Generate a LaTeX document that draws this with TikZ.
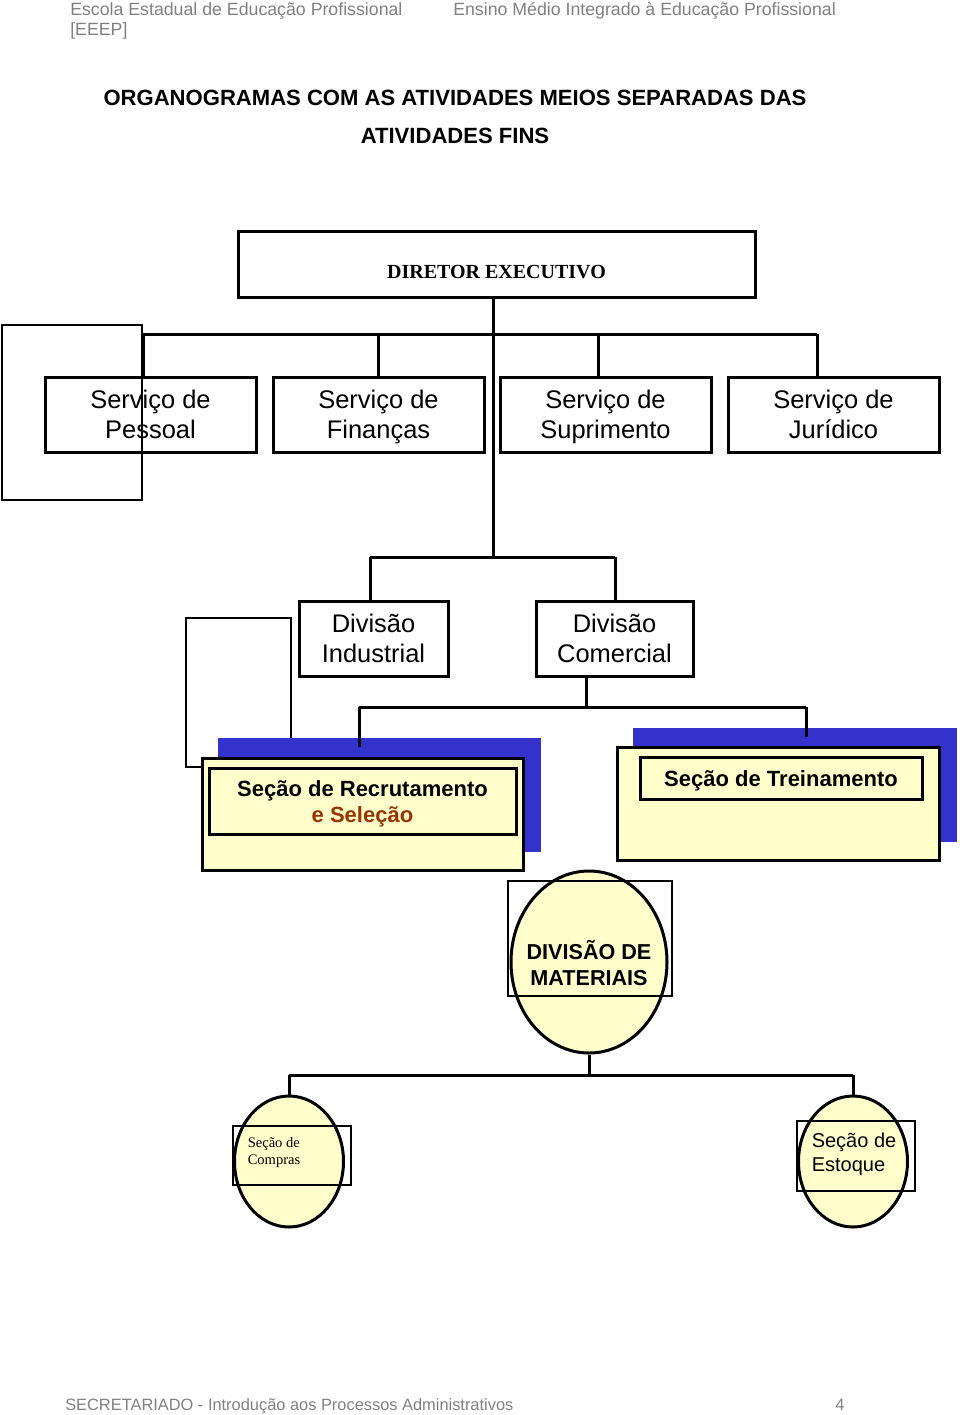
\documentclass[tikz,border=0pt]{standalone}
\usepackage{fontspec}
\setmainfont{Liberation Sans}
\newfontfamily\serifft{Liberation Serif}
\usetikzlibrary{shapes.geometric}
\definecolor{paleyellow}{HTML}{FFFFCC}
\definecolor{shadowblue}{HTML}{3333CC}
\definecolor{brownred}{HTML}{993300}
\definecolor{headgray}{HTML}{808080}
\def\pxu{0.75pt}
\newcommand\sstrut{\rule[-4.25pt]{0pt}{22.5pt}}
\begin{document}
\begin{tikzpicture}[x=0.75pt,y=-0.75pt,
  box/.style={draw, line width=2.25pt, inner sep=0pt, align=center, fill=white,
    font=\fontsize{19.1}{22.5}\selectfont},
  ybox/.style={draw, line width=2.25pt, inner sep=0pt, align=center, fill=paleyellow},
  ylabel/.style={inner sep=0pt, align=center, font=\bfseries\fontsize{16.5}{19.5}\selectfont},
  conn/.style={line width=2.25pt},
  hairbox/.style={line width=1.1pt},
  ell/.style={ellipse, draw, line width=2.25pt, fill=paleyellow, inner sep=0pt},
  hdr/.style={anchor=base west, inner sep=0pt, text=headgray, font=\fontsize{13.3}{16}\selectfont}
]
\useasboundingbox (0,0) rectangle (960,1415);

% header / footer
\node[hdr] (h1) at (70,15) {Escola Estadual de Educação Profissional};
\node[hdr] (h2) at (453,15) {Ensino Médio Integrado à Educação Profissional};
\node[hdr] (h3) at (70,35) {[EEEP]};
\node[hdr, font=\fontsize{12.3}{15}\selectfont] (f1) at (65,1410) {SECRETARIADO - Introdução aos Processos Administrativos};
\node[hdr, font=\fontsize{12.3}{15}\selectfont] (f2) at (835,1410) {4};

% title
\node[align=center, inner sep=0pt, font=\bfseries\fontsize{16.55}{28.5}\selectfont] (title) at (455,117)
  {ORGANOGRAMAS COM AS ATIVIDADES MEIOS SEPARADAS DAS\\ATIVIDADES FINS};

% director
\node[box, minimum width=517*\pxu, minimum height=66*\pxu] (dir) at (496.5,264) {};
\node[inner sep=0pt, font=\serifft\bfseries\fontsize{15}{18}\selectfont] (dirlabel) at (496.5,272) {DIRETOR EXECUTIVO};

% services
\node[box, minimum width=211*\pxu, minimum height=75*\pxu] (s1) at (150.5,414.5) {Serviço de\sstrut\\Pessoal\sstrut};
\node[box, minimum width=211*\pxu, minimum height=75*\pxu] (s2) at (378.5,414.5) {Serviço de\sstrut\\Finanças\sstrut};
\node[box, minimum width=211*\pxu, minimum height=75*\pxu] (s3) at (605.5,414.5) {Serviço de\sstrut\\Suprimento\sstrut};
\node[box, minimum width=211*\pxu, minimum height=75*\pxu] (s4) at (833.5,414.5) {Serviço de\sstrut\\Jurídico\sstrut};

% connectors level 1
\coordinate (b1) at (143,334);
\coordinate (b2) at (378,334);
\coordinate (b3) at (598,334);
\coordinate (b4) at (817,334);
\coordinate (trunk) at (493,557);
\draw[conn] (b1) -- (b4);
\draw[conn] (b1) -- (b1 |- s1.north);
\draw[conn] (b2) -- (b2 |- s2.north);
\draw[conn] (b3) -- (b3 |- s3.north);
\draw[conn] (b4) -- (b4 |- s4.north);
\draw[conn] (dir.south -| trunk) -- (trunk);

\draw[hairbox] (2,325) rectangle (142,500);

% divisions
\node[box, minimum width=149*\pxu, minimum height=75*\pxu] (d1) at (373.5,638.5) {Divisão\sstrut\\Industrial\sstrut};
\node[box, minimum width=157*\pxu, minimum height=75*\pxu] (d2) at (614.5,638.5) {Divisão\sstrut\\Comercial\sstrut};
\coordinate (c1) at (370,557);
\coordinate (c2) at (615,557);
\draw[conn] (c1) -- (c2);
\draw[conn] (c1) -- (c1 |- d1.north);
\draw[conn] (c2) -- (c2 |- d2.north);

% thin rect behind sections
\draw[hairbox] (186,618) rectangle (291,767);

% sections
\fill[shadowblue] (218,738) rectangle (541,852);
\fill[shadowblue] (633,728) rectangle (957,842);
\node[ybox, minimum width=321*\pxu, minimum height=112*\pxu] (sec1) at (362.5,814) {};
\node[ybox, minimum width=307*\pxu, minimum height=66*\pxu] (sec1in) at (362.5,801.5) {};
\node[ylabel] (sec1label) at (362.5,804) {Seção de Recrutamento\\\textcolor{brownred}{e Seleção}};
\node[ybox, minimum width=322*\pxu, minimum height=113*\pxu] (sec2) at (778,803.5) {};
\node[ybox, minimum width=282*\pxu, minimum height=42*\pxu] (sec2in) at (781,778) {};
\node[ylabel] (sec2label) at (781,781) {Seção de Treinamento};

\coordinate (e0) at (586,707);
\coordinate (e1) at (359,707);
\coordinate (e2) at (806,707);
\coordinate (e1end) at (359,747);
\coordinate (e2end) at (806,737);
\draw[conn] (d2.south -| e0) -- (e0);
\draw[conn] (e1) -- (e2);
\draw[conn] (e1) -- (e1end);
\draw[conn] (e2) -- (e2end);

% materials
\node[ell, minimum width=156*\pxu, minimum height=182*\pxu] (mat) at (589,962) {};
\draw[hairbox] (508,881) rectangle (672,996);
\node[align=center, inner sep=0pt, font=\bfseries\fontsize{16.2}{19.5}\selectfont] (matlabel) at (589,963) {DIVISÃO DE\\MATERIAIS};

\node[ell, minimum width=109*\pxu, minimum height=131*\pxu] (comp) at (289,1161.5) {};
\draw[hairbox] (233,1126) rectangle (351,1185);
\node[align=left, anchor=west, inner sep=0pt, font=\serifft\fontsize{10.9}{12.75}\selectfont] (complabel) at (247.5,1152.5) {Seção de\\Compras};

\node[ell, minimum width=109*\pxu, minimum height=131*\pxu] (est) at (853,1161.5) {};
\draw[hairbox] (797,1121) rectangle (915,1191);
\node[align=left, anchor=west, inner sep=0pt, font=\fontsize{15}{18}\selectfont] (estlabel) at (811.5,1154) {Seção de\\Estoque};

\coordinate (g0) at (589,1075);
\coordinate (g1) at (289,1075);
\coordinate (g2) at (853,1075);
\draw[conn] (mat.south) -- (g0);
\draw[conn] (g1) -- (g2);
\draw[conn] (g1) -- (comp.north);
\draw[conn] (g2) -- (est.north);
\end{tikzpicture}
\end{document}
